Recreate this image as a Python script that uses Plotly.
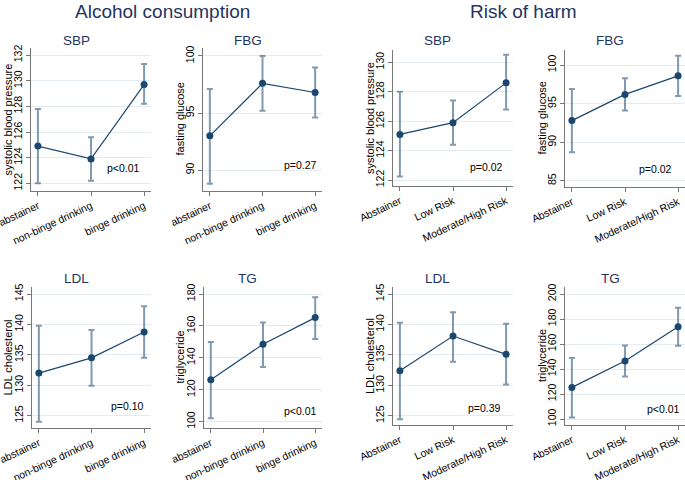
import plotly.graph_objects as go

# ---------------- data ----------------
alc_categories = ["abstainer", "non-binge drinking", "binge drinking"]
risk_categories = ["Abstainer", "Low Risk", "Moderate/High Risk"]

sbp_alc = [124.9, 123.9, 129.7]
sbp_alc_lo = [122.0, 122.2, 128.2]
sbp_alc_hi = [127.8, 125.6, 131.3]

fbg_alc = [93.0, 97.6, 96.8]
fbg_alc_lo = [88.8, 95.2, 94.6]
fbg_alc_hi = [97.1, 100.0, 99.0]

ldl_alc = [132.0, 134.5, 138.75]
ldl_alc_lo = [124.0, 129.9, 134.5]
ldl_alc_hi = [139.8, 139.1, 143.0]

tg_alc = [126.3, 148.5, 165.2]
tg_alc_lo = [102.1, 134.3, 151.8]
tg_alc_hi = [149.9, 162.2, 177.9]

sbp_risk = [125.1, 125.9, 128.6]
sbp_risk_lo = [122.25, 124.4, 126.8]
sbp_risk_hi = [128.0, 127.4, 130.5]

fbg_risk = [92.8, 96.2, 98.6]
fbg_risk_lo = [88.7, 94.1, 96.0]
fbg_risk_hi = [96.9, 98.3, 101.2]

ldl_risk = [132.4, 138.1, 135.1]
ldl_risk_lo = [124.45, 133.9, 130.15]
ldl_risk_hi = [140.3, 142.0, 140.1]

tg_risk = [125.3, 146.4, 173.9]
tg_risk_lo = [101.3, 134.1, 158.7]
tg_risk_hi = [148.8, 158.9, 189.1]

titles = ["SBP", "FBG", "SBP", "FBG", "LDL", "TG", "LDL", "TG"]
ytitles = ["systolic blood pressure", "fasting glucose", "systolic blood pressure", "fasting glucose",
           "LDL cholesterol", "triglyceride", "LDL cholesterol", "triglyceride"]
pvalues = ["p<0.01", "p=0.27", "p=0.02", "p=0.02", "p=0.10", "p<0.01", "p=0.39", "p<0.01"]
yticks = [
    [122, 124, 126, 128, 130, 132],
    [90, 95, 100],
    [122, 124, 126, 128, 130],
    [85, 90, 95, 100],
    [125, 130, 135, 140, 145],
    [100, 120, 140, 160, 180],
    [125, 130, 135, 140, 145],
    [100, 120, 140, 160, 180, 200],
]
series = [
    (alc_categories, sbp_alc, sbp_alc_lo, sbp_alc_hi),
    (alc_categories, fbg_alc, fbg_alc_lo, fbg_alc_hi),
    (risk_categories, sbp_risk, sbp_risk_lo, sbp_risk_hi),
    (risk_categories, fbg_risk, fbg_risk_lo, fbg_risk_hi),
    (alc_categories, ldl_alc, ldl_alc_lo, ldl_alc_hi),
    (alc_categories, tg_alc, tg_alc_lo, tg_alc_hi),
    (risk_categories, ldl_risk, ldl_risk_lo, ldl_risk_hi),
    (risk_categories, tg_risk, tg_risk_lo, tg_risk_hi),
]

# ---------------- layout (pixels) ----------------
W, H = 685, 480
# plot area boxes: x0, x1, y_top, y_bottom
boxes = [
    (31, 151, 48, 191), (203, 322, 48, 191), (393, 513, 50, 186), (565, 685, 50, 187),
    (32, 151, 287, 428), (204, 322, 287, 428), (393, 513, 287, 425), (565, 685, 287, 425),
]
yranges = [
    (121.4, 132.55), (88.16, 100.7), (121.6, 130.83), (84.2, 101.95),
    (122.97, 146.15), (96.0, 184.4), (123.5, 146.15), (95.2, 205.6),
]
title_pos = [(76, 40), (248, 40), (437, 40), (610, 40),
             (76, 278), (247, 278), (437, 278), (610, 278)]
ytitle_x = [7, 179, 370, 542, 7, 179, 370, 542]
pval_pos = [(142, 168), (319, 165), (505, 167), (674, 169),
            (146, 406), (319, 411), (503, 408), (682, 409)]

NAVY = "#1a476f"
BAR = "rgba(26,71,111,0.55)"
TITLE_C = "#1f3461"
AXIS_C = "#777777"
GRID_C = "#e4ecf1"
FONT = "Liberation Sans, Arial, sans-serif"


def fx(p):
    return p / W


def fy(p):
    return 1 - p / H


fig = go.Figure()
layout = dict()
annotations = []

for i, (cats, vals, lo, hi) in enumerate(series):
    n = i + 1
    xa = "x" if n == 1 else f"x{n}"
    ya = "y" if n == 1 else f"y{n}"
    fig.add_trace(go.Scatter(
        x=cats, y=vals, mode="lines+markers",
        line=dict(color=NAVY, width=1.2),
        marker=dict(color=NAVY, size=7),
        error_y=dict(type="data", symmetric=False,
                     array=[h - v for h, v in zip(hi, vals)],
                     arrayminus=[v - l for v, l in zip(vals, lo)],
                     color=BAR, thickness=2, width=3),
        xaxis=xa, yaxis=ya, showlegend=False, hoverinfo="skip",
    ))
    x0, x1, yt, yb = boxes[i]
    layout["xaxis" if n == 1 else f"xaxis{n}"] = dict(
        domain=[fx(x0), fx(x1)], anchor=ya, type="category",
        range=[-0.13, 2.13], showgrid=False, zeroline=False,
        showline=True, linecolor=AXIS_C, linewidth=1,
        ticks="outside", ticklen=4, tickcolor=AXIS_C, tickangle=-25,
        tickfont=dict(size=10.5, color="black", family=FONT), automargin=False,
    )
    layout["yaxis" if n == 1 else f"yaxis{n}"] = dict(
        domain=[fy(yb), fy(yt)], anchor=xa, range=list(yranges[i]),
        tickmode="array", tickvals=yticks[i], ticktext=[str(t) for t in yticks[i]],
        showgrid=True, gridcolor=GRID_C, gridwidth=1, zeroline=False,
        showline=True, linecolor=AXIS_C, linewidth=1,
        ticks="outside", ticklen=4, tickcolor=AXIS_C, tickangle=-90,
        tickfont=dict(size=10.5, color="black", family=FONT), automargin=False,
    )
    tx, ty = title_pos[i]
    annotations.append(dict(text=titles[i], x=fx(tx), y=fy(ty), xref="paper", yref="paper",
                            showarrow=False, xanchor="center", yanchor="middle",
                            font=dict(size=13.5, color=TITLE_C, family=FONT)))
    annotations.append(dict(text=ytitles[i], x=fx(ytitle_x[i]), y=fy((yt + yb) / 2),
                            xref="paper", yref="paper", showarrow=False, textangle=-90,
                            xanchor="center", yanchor="middle",
                            font=dict(size=11, color="black", family=FONT)))
    px_, py_ = pval_pos[i]
    annotations.append(dict(text=pvalues[i], x=fx(px_), y=fy(py_), xref="paper", yref="paper",
                            showarrow=False, xanchor="right", yanchor="middle",
                            font=dict(size=10.5, color="black", family=FONT)))

annotations.append(dict(text="Alcohol consumption", x=fx(162), y=fy(11), xref="paper", yref="paper",
                        showarrow=False, xanchor="center", yanchor="middle",
                        font=dict(size=19, color=TITLE_C, family=FONT)))
annotations.append(dict(text="Risk of harm", x=fx(523), y=fy(11), xref="paper", yref="paper",
                        showarrow=False, xanchor="center", yanchor="middle",
                        font=dict(size=19, color=TITLE_C, family=FONT)))

fig.update_layout(
    width=W, height=H, margin=dict(l=0, r=0, t=0, b=0),
    paper_bgcolor="white", plot_bgcolor="white",
    font=dict(family=FONT), annotations=annotations, **layout,
)

fig.write_html("out.html",
               config={"displayModeBar": False, "staticPlot": True},
               post_script="document.body.style.margin='0';document.body.style.overflow='hidden';")
